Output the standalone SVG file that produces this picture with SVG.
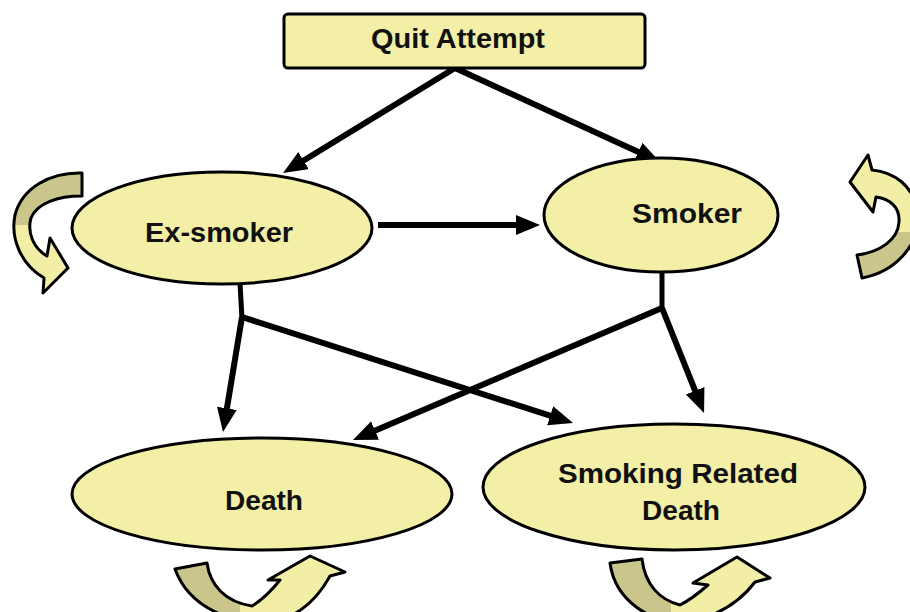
<svg xmlns="http://www.w3.org/2000/svg" width="910" height="612" viewBox="0 0 910 612">
  <style>
    .node { fill: #F3EFA7; stroke: #000; stroke-width: 3; }
    .lbl { font-family: "Liberation Sans", Arial, sans-serif; font-weight: bold; font-size: 27px; fill: #111; text-anchor: middle; }
    .edge { stroke: #000; stroke-width: 6; fill: none; marker-end: url(#ah); }
    .stem { stroke: #000; stroke-width: 5; fill: none; }
    .loop { stroke: #000; stroke-width: 3; stroke-linejoin: round; }
  </style>
  <defs>
    <marker id="ah" markerUnits="userSpaceOnUse" markerWidth="26" markerHeight="22" refX="8" refY="10" orient="auto">
      <path d="M0,0 L24,10 L0,20 Z" fill="#000"/>
    </marker>
    <linearGradient id="gL" gradientUnits="userSpaceOnUse" x1="0" y1="173" x2="0" y2="293">
      <stop offset="0.43" stop-color="#C9C58B"/>
      <stop offset="0.43" stop-color="#F2EEA6"/>
    </linearGradient>
    <linearGradient id="gR" gradientUnits="userSpaceOnUse" x1="0" y1="155" x2="0" y2="278">
      <stop offset="0.63" stop-color="#F2EEA6"/>
      <stop offset="0.63" stop-color="#C9C58B"/>
    </linearGradient>
    <linearGradient id="gB1" gradientUnits="userSpaceOnUse" x1="175" y1="0" x2="345" y2="0">
      <stop offset="0.38" stop-color="#C9C58B"/>
      <stop offset="0.38" stop-color="#F2EEA6"/>
    </linearGradient>
    <linearGradient id="gB2" gradientUnits="userSpaceOnUse" x1="610" y1="0" x2="770" y2="0">
      <stop offset="0.38" stop-color="#C9C58B"/>
      <stop offset="0.38" stop-color="#F2EEA6"/>
    </linearGradient>
  </defs>
  <rect width="910" height="612" fill="#fff"/>

  <g id="connectors">
    <line class="edge" x1="455" y1="68" x2="296.7" y2="164.7"/>
    <line class="edge" x1="455" y1="68" x2="645.5" y2="155.3"/>
    <line class="edge" x1="378" y1="225" x2="524" y2="225"/>
    <line class="stem" x1="240" y1="283" x2="242" y2="319"/>
    <line class="edge" x1="242" y1="317" x2="225.6" y2="416.2"/>
    <line class="edge" x1="242" y1="317" x2="557.8" y2="418.1"/>
    <line class="stem" x1="662" y1="272" x2="662" y2="310"/>
    <line class="edge" x1="662" y1="308" x2="367.7" y2="433.7"/>
    <line class="edge" x1="662" y1="308" x2="698.1" y2="398.1"/>
    <g id="self-loops">
      <path class="loop" fill="url(#gL)" d="M82,173 C50,172 22,188 15,215 C10,240 22,265 44,278 L43,293 L68,268 L50,238 L47,256 C33,248 27,232 31,218 C37,203 58,196 82,196 Z"/>
      <path class="loop" fill="url(#gR)" d="M850,182 L868,155 L872,170 C893,172 915,185 918,215 C920,245 895,272 862,278 L857,255 C880,252 898,240 899,222 C900,207 890,199 876,197 L873,212 Z"/>
      <path class="loop" fill="url(#gB1)" d="M175,569 L207,563 C210,585 225,602 252,606 C262,600 272,590 280,580 L268,580 L310,556 L345,572 L330,576 C318,598 300,615 275,622 C235,625 190,610 175,569 Z"/>
      <path class="loop" fill="url(#gB2)" d="M610,563 L642,559 C645,585 660,600 680,605 C690,600 700,592 708,585 L693,583 L737,557 L770,578 L755,582 C740,602 720,615 690,622 C650,625 615,600 610,563 Z"/>
    </g>
  </g>

  <g id="quit-attempt">
    <rect class="node" x="284" y="14" width="361" height="54" rx="4"/>
    <text class="lbl" x="458" y="48" textLength="174" lengthAdjust="spacingAndGlyphs">Quit Attempt</text>
  </g>
  <g id="ex-smoker">
    <ellipse class="node" cx="222" cy="228" rx="150" ry="56"/>
    <text class="lbl" x="219" y="242" textLength="148" lengthAdjust="spacingAndGlyphs">Ex-smoker</text>
  </g>
  <g id="smoker">
    <ellipse class="node" cx="661" cy="215" rx="117" ry="57"/>
    <text class="lbl" x="687" y="223" textLength="110" lengthAdjust="spacingAndGlyphs">Smoker</text>
  </g>
  <g id="death">
    <ellipse class="node" cx="262" cy="494" rx="190" ry="56"/>
    <text class="lbl" x="264" y="510" textLength="78" lengthAdjust="spacingAndGlyphs">Death</text>
  </g>
  <g id="smoking-related-death">
    <ellipse class="node" cx="674" cy="487" rx="191" ry="63"/>
    <text class="lbl" x="678" y="483" textLength="240" lengthAdjust="spacingAndGlyphs">Smoking Related</text>
    <text class="lbl" x="681" y="520" textLength="78" lengthAdjust="spacingAndGlyphs">Death</text>
  </g>
</svg>
